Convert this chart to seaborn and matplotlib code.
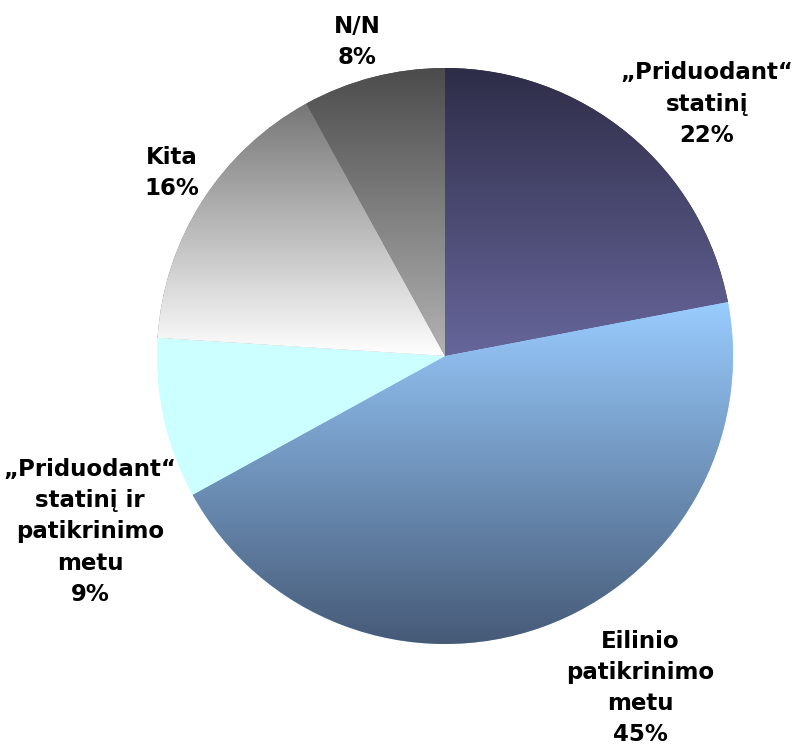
import numpy as np
import matplotlib
matplotlib.use("Agg")
import matplotlib.pyplot as plt
import seaborn as sns

# ---- data ----
categories = ["„Priduodant“\nstatinį",
              "Eilinio\npatikrinimo\nmetu",
              "„Priduodant“\nstatinį ir\npatikrinimo\nmetu",
              "Kita",
              "N/N"]
values = [22, 45, 9, 16, 8]
top_colors = ["#2e2d48", "#99ccff", "#ccffff", "#767676", "#4c4c4c"]
bottom_colors = ["#67669b", "#465a77", "#ccffff", "#ffffff", "#b3b3b3"]
# label anchor positions (axes data units, pie radius = 1)
label_x = [0.91, 0.677, -1.233, -0.948, -0.306]
label_y = [0.875, -1.153, -0.611, 0.635, 1.09]

sns.set_theme(style="white")
plt.rcParams['font.family'] = ['DejaVu Sans']

fig = plt.figure(figsize=(7.97, 7.47), dpi=100)
fig.patch.set_facecolor("white")
ax = fig.add_axes([157 / 797, (747 - 644) / 747, 576 / 797, 576 / 747])

wedges, _ = ax.pie(values, startangle=90, counterclock=False, radius=1,
                   colors=top_colors,
                   wedgeprops=dict(linewidth=0, edgecolor="none"))

for w, ctop, cbot in zip(wedges, top_colors, bottom_colors):
    th = np.radians(np.linspace(w.theta1, w.theta2, 400))
    cx, cy = w.center
    xs = np.concatenate([[cx], cx + w.r * np.cos(th)])
    ys = np.concatenate([[cy], cy + w.r * np.sin(th)])
    x0, x1, y0, y1 = xs.min(), xs.max(), ys.min(), ys.max()
    pal = np.array(sns.blend_palette([ctop, cbot], n_colors=256))
    img = pal[:, None, :]
    im = ax.imshow(img, extent=[x0, x1, y0, y1], origin="upper",
                   aspect="auto", interpolation="bilinear", zorder=2)
    im.set_clip_path(w)

for cat, v, lx, ly in zip(categories, values, label_x, label_y):
    ax.text(lx, ly, f"{cat}\n{v}%", ha="center", va="center",
            fontsize=16.5, fontweight="bold", color="black",
            linespacing=1.45, zorder=5)

ax.set_xlim(-1, 1)
ax.set_ylim(-1, 1)
ax.set_aspect("equal")
ax.axis("off")

fig.savefig("out.png", dpi=100, facecolor="white")
